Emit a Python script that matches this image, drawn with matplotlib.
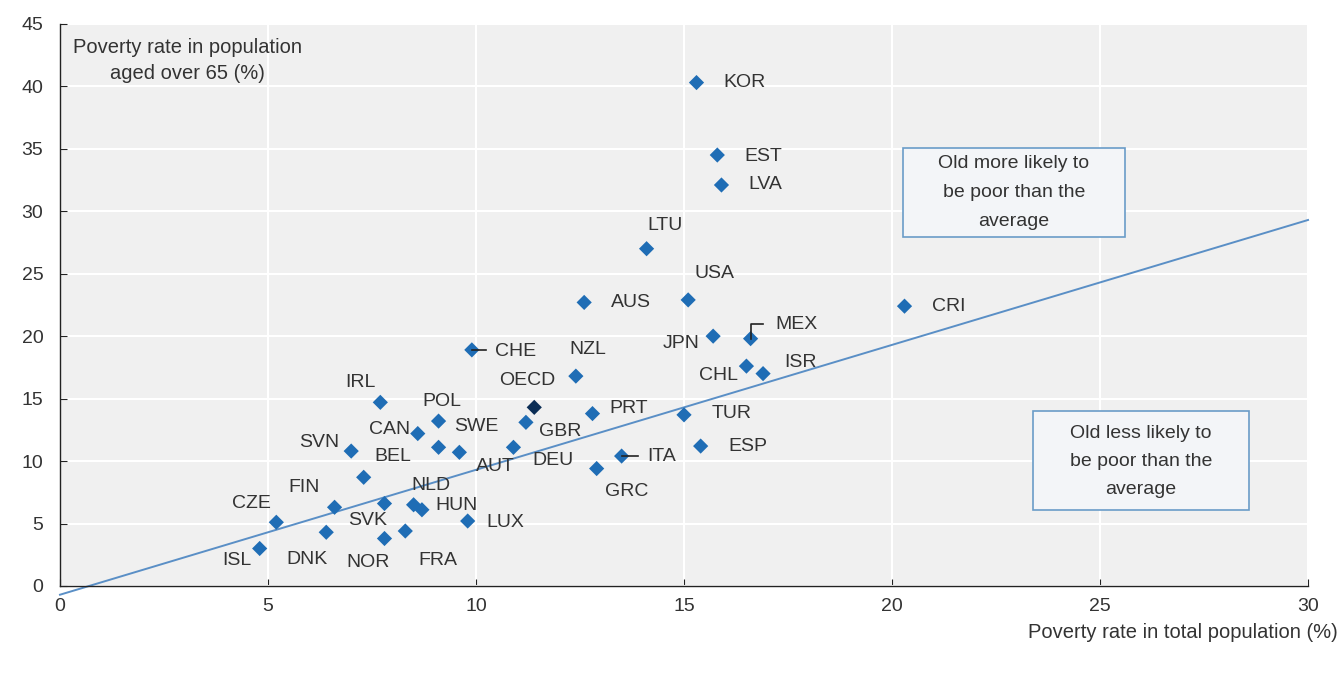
import numpy as np
import matplotlib
matplotlib.use('Agg')
import matplotlib.pyplot as plt
from matplotlib.patches import Rectangle

plt.rcParams['font.family'] = ['Liberation Sans', 'DejaVu Sans']

# data
countries = ['KOR', 'EST', 'LVA', 'LTU', 'USA', 'AUS', 'CRI', 'MEX', 'JPN', 'CHE',
             'NZL', 'CHL', 'ISR', 'IRL', 'OECD', 'POL', 'PRT', 'TUR', 'GBR', 'CAN',
             'SWE', 'SVN', 'AUT', 'DEU', 'BEL', 'ITA', 'GRC', 'ESP', 'FIN', 'SVK',
             'NLD', 'HUN', 'LUX', 'CZE', 'DNK', 'NOR', 'FRA', 'ISL']
total_pop = [15.3, 15.8, 15.9, 14.1, 15.1, 12.6, 20.3, 16.6, 15.7, 9.9,
             12.4, 16.5, 16.9, 7.7, 11.4, 9.1, 12.8, 15.0, 11.2, 8.6,
             9.1, 7.0, 9.6, 10.9, 7.3, 13.5, 12.9, 15.4, 6.6, 7.8,
             8.5, 8.7, 9.8, 5.2, 6.4, 7.8, 8.3, 4.8]
over65 = [40.3, 34.5, 32.1, 27.0, 22.9, 22.7, 22.4, 19.8, 20.0, 18.9,
          16.8, 17.6, 17.0, 14.7, 14.3, 13.2, 13.8, 13.7, 13.1, 12.2,
          11.1, 10.8, 10.7, 11.1, 8.7, 10.4, 9.4, 11.2, 6.3, 6.6,
          6.5, 6.1, 5.2, 5.1, 4.3, 3.8, 4.4, 3.0]

# average reference line
line_x = [0, 30]
line_y = [-0.7, 29.3]

# label offsets in pixels (dx, dy)
offsets = {
    'KOR': (48, 0), 'EST': (46, -1), 'LVA': (44, 0), 'LTU': (18, 23),
    'USA': (26, 26), 'AUS': (47, 0), 'CRI': (44, 0), 'MEX': (46, 14),
    'JPN': (-32, -7), 'CHE': (44, -2), 'NZL': (12, 27), 'CHL': (-28, -9),
    'ISR': (37, 11), 'IRL': (-20, 20), 'OECD': (-7, 27), 'POL': (3, 20),
    'PRT': (36, 5), 'TUR': (48, 1), 'GBR': (34, -9), 'CAN': (-28, 4),
    'SWE': (38, 21), 'SVN': (-32, 9), 'AUT': (36, -14), 'DEU': (39, -13),
    'BEL': (29, 21), 'ITA': (40, 0), 'GRC': (30, -23), 'ESP': (47, 0),
    'FIN': (-30, 20), 'SVK': (-17, -17), 'NLD': (17, 19), 'HUN': (35, 4),
    'LUX': (38, -1), 'CZE': (-25, 19), 'DNK': (-19, -27), 'NOR': (-16, -24),
    'FRA': (33, -29), 'ISL': (-23, -12),
}

fig = plt.figure(figsize=(13.42, 6.74), dpi=100)
ax = fig.add_axes([0.0447, 0.1306, 0.93, 0.834])
ax.set_facecolor('#f0f0f0')

ax.set_xlim(0, 30)
ax.set_ylim(0, 45)
ax.set_xticks(np.arange(0, 31, 5))
ax.set_yticks(np.arange(0, 46, 5))
ax.grid(True, color='white', linewidth=1.5)
ax.set_axisbelow(True)
for s in ['top', 'right']:
    ax.spines[s].set_visible(False)
for s in ['left', 'bottom']:
    ax.spines[s].set_color('#222222')
    ax.spines[s].set_linewidth(1.0)
ax.tick_params(axis='both', direction='in', length=5, color='#222222',
               labelsize=14, labelcolor='#333333')
ax.tick_params(axis='x', pad=9)
ax.tick_params(axis='y', pad=12)

ax.plot(line_x, line_y, color='#5a8fc6', linewidth=1.4, clip_on=False, zorder=2)

colors = ['#0b2d55' if c == 'OECD' else '#1f6db5' for c in countries]
ax.scatter(total_pop, over65, marker='D', s=60, c=colors, zorder=3, linewidths=0)

for c, x, y in zip(countries, total_pop, over65):
    dx, dy = offsets[c]
    ax.annotate(c, (x, y), xytext=(dx, dy), textcoords='offset pixels',
                ha='center', va='center', fontsize=14, color='#333333', zorder=4)

# leader lines
def leader(c, pts):
    i = countries.index(c)
    x0, y0 = ax.transData.transform((total_pop[i], over65[i]))
    xs, ys = [], []
    for dx, dy in pts:
        px, py = ax.transData.inverted().transform((x0 + dx, y0 + dy))
        xs.append(px)
        ys.append(py)
    ax.plot(xs, ys, color='#222222', linewidth=1.2, zorder=3)

leader('CHE', [(0, 0), (14, 0)])
leader('ITA', [(0, 0), (16, 0)])
leader('MEX', [(0, 0), (0, 15), (12, 15)])

# annotation boxes
box_style = dict(facecolor='#f3f5f8', edgecolor='#6a9cc8', linewidth=1.2, zorder=5)
ax.add_patch(Rectangle((20.26, 27.9), 5.34, 7.2, **box_style))
ax.text(22.93, 31.5, 'Old more likely to\nbe poor than the\naverage', ha='center', va='center',
        fontsize=14, color='#333333', linespacing=1.9, zorder=6)
ax.add_patch(Rectangle((23.39, 6.08), 5.19, 7.92, **box_style))
ax.text(25.98, 10.0, 'Old less likely to\nbe poor than the\naverage', ha='center', va='center',
        fontsize=14, color='#333333', linespacing=1.85, zorder=6)

ax.text(0.102, 0.975, 'Poverty rate in population\naged over 65 (%)', transform=ax.transAxes,
        ha='center', va='top', fontsize=14.5, color='#333333', linespacing=1.5)
fig.text(0.997, 0.062, 'Poverty rate in total population (%)', ha='right', va='center',
         fontsize=14.5, color='#333333')

fig.savefig('out.png', dpi=100)
